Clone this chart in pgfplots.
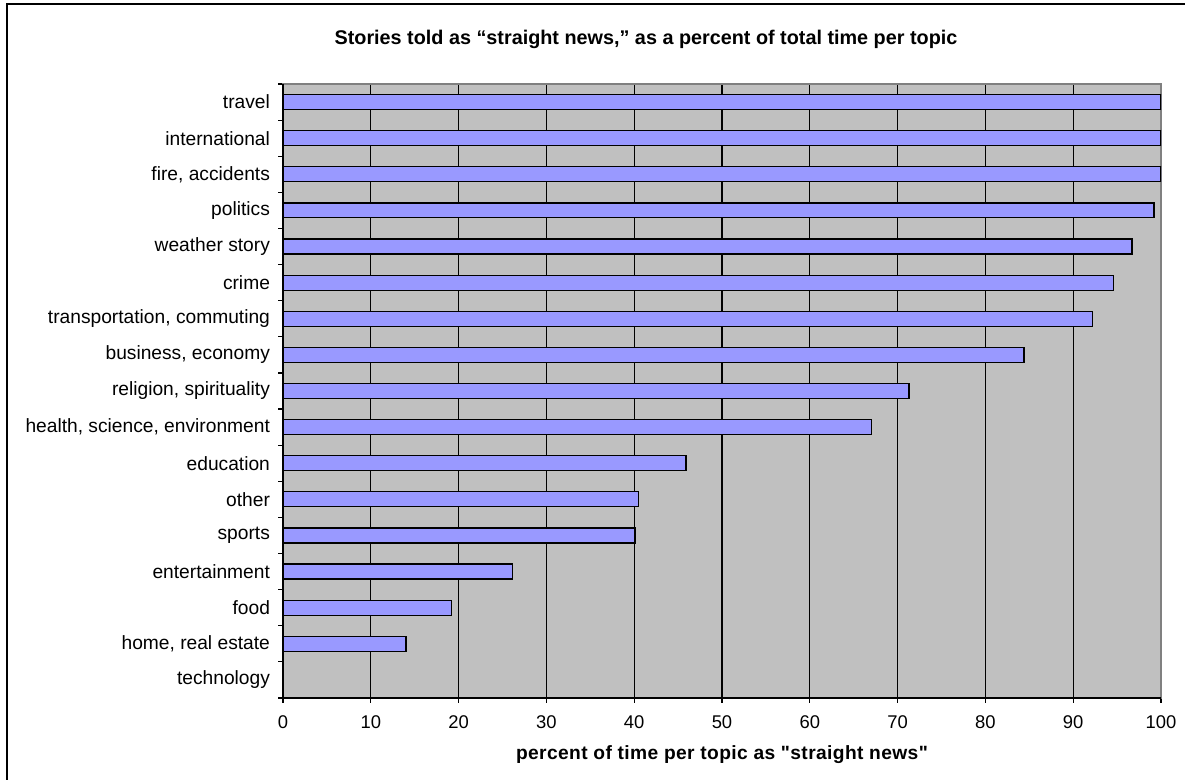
\documentclass[border=0pt]{standalone}
\usepackage{pgfplots}
\pgfplotsset{compat=1.18}
\usepackage{pgfplotstable}
\usepackage{fontspec}
\setmainfont{Liberation Sans}[Ligatures=TeXOff]
\definecolor{barblue}{HTML}{9999FF}
\definecolor{plotgray}{HTML}{C0C0C0}
\pgfplotstableread{
pos value
1 0
2 14.0
3 19.2
4 26.1
5 40.1
6 40.5
7 45.9
8 67.0
9 71.3
10 84.4
11 92.2
12 94.6
13 96.7
14 99.2
15 100
16 100
17 100
}\datatable
\newcommand{\fs}{\fontsize{9.2pt}{11pt}\selectfont}
\newcommand{\fy}{\fontsize{9.6pt}{11pt}\selectfont}
\begin{document}
\begin{tikzpicture}
\useasboundingbox (0,0) rectangle (592.5pt,390pt);
\draw[line width=0.8pt] (3.5pt,0pt) -- (3.5pt,388pt) -- (592.5pt,388pt);
\node[anchor=base, font=\fontsize{9.9pt}{12pt}\selectfont\bfseries] at (323pt,367.5pt) {Stories told as “straight news,” as a percent of total time per topic};
\begin{axis}[
  at={(141.5pt,41pt)}, anchor=south west,
  width=439pt, height=307pt, scale only axis,
  xbar, bar width=0.415,
  xmin=0, xmax=100, ymin=0.5, ymax=17.5,
  xtick={0,10,...,100},
  ytick={0.5,1.5,...,17.5},
  yticklabels={},
  extra y ticks={1,...,17},
  extra y tick labels={technology,{home, real estate},food,entertainment,sports,other,education,{health, science, environment},{religion, spirituality},{business, economy},{transportation, commuting},crime,{weather story},politics,{fire, accidents},international,travel},
  extra y tick style={major tick length=0pt, yticklabel style={xshift=-3pt, font=\fy}},
  tick pos=left, tick align=outside, major tick length=2.5pt,
  tick style={black, line width=0.6pt},
  xmajorgrids, major grid style={black, line width=0.6pt},
  axis background/.style={fill=plotgray},
  axis line style={draw=gray, line width=0.6pt},
  ticklabel style={font=\fs, text=black},
  xticklabel style={yshift=-3pt},
  /pgf/number format/assume math mode=true,
  xlabel={percent of time per topic as "straight news"},
  xlabel style={font=\fy\bfseries\addfontfeatures{LetterSpace=2}, at={(axis description cs:0.5,0)}, anchor=base, yshift=-31pt},
  after end axis/.code={\draw[black, line width=0.6pt] (rel axis cs:0,1) -- (rel axis cs:0,0) -- (rel axis cs:1,0);},
]
\addplot[fill=barblue, draw=black, line width=0.6pt] table[x=value, y=pos] {\datatable};
\end{axis}
\end{tikzpicture}
\end{document}
